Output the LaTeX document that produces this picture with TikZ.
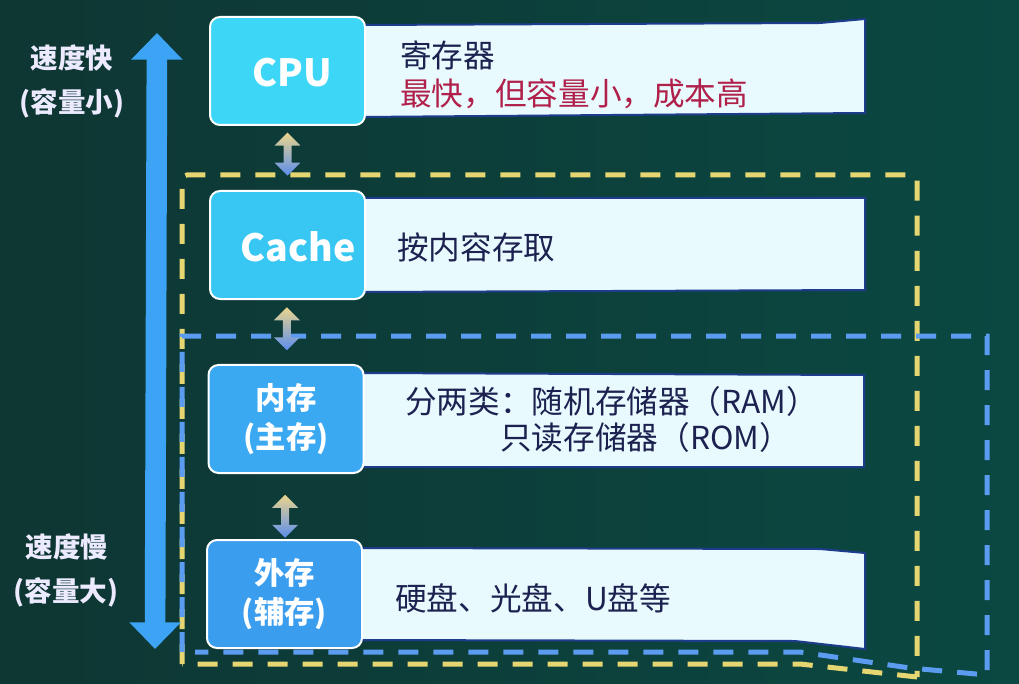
\documentclass[tikz,border=0pt]{standalone}
\usepackage{fontspec}
\setmainfont{Noto Sans CJK SC}
\usetikzlibrary{arrows.meta,calc}
\definecolor{bgL}{HTML}{0E3633}
\definecolor{bgR}{HTML}{0B4842}
\definecolor{cpuc}{HTML}{3ED6F7}
\definecolor{cachec}{HTML}{38C6F3}
\definecolor{memc}{HTML}{3BA8F2}
\definecolor{extc}{HTML}{3A9DEE}
\definecolor{panelc}{HTML}{E8FAFE}
\definecolor{panelb}{HTML}{1E3C8C}
\definecolor{navy}{HTML}{1C2150}
\definecolor{redt}{HTML}{B0204A}
\definecolor{sidec}{HTML}{ECEAFF}
\definecolor{bigc}{HTML}{3DA3F5}
\definecolor{yel}{HTML}{E6D672}
\definecolor{blu}{HTML}{5B9BF0}
\definecolor{ay}{HTML}{EAD58C}
\definecolor{am}{HTML}{C4CCE4}
\definecolor{ab}{HTML}{5C8EEE}
\newcommand\mydblarrow[1]{%
  \shade[top color=ay, middle color=am, bottom color=ab]
    ($(#1)+(0,-21.5)$) -- ++(13,13) -- ++(-9,0) -- ++(0,17) -- ++(9,0)
    -- ++(-13,13) -- ++(-13,-13) -- ++(9,0) -- ++(0,-17) -- ++(-9,0) -- cycle;}
\begin{document}
\begin{tikzpicture}[x=0.03cm,y=-0.03cm,
  box/.style={draw=white, line width=0.06cm, rounded corners=0.3cm,
    minimum width=4.65cm, minimum height=3.24cm, text=white, align=center,
    inner sep=0pt, font=\bfseries\fontsize{26pt}{34pt}\selectfont},
  lat/.style={font=\bfseries\fontsize{32pt}{36pt}\selectfont},
  panel/.style={fill=panelc, draw=panelb, line width=0.06cm},
  ptext/.style={anchor=west, text=navy, inner sep=0pt,
    font=\fontsize{27pt}{30pt}\selectfont},
  side/.style={text=sidec, inner sep=0pt,
    font=\bfseries\fontsize{23.5pt}{28pt}\selectfont},
  ydash/.style={draw=yel, line width=0.15cm, dash pattern=on 0.6cm off 0.45cm},
  bdash/.style={draw=blu, line width=0.15cm, dash pattern=on 0.6cm off 0.45cm},
  bigarrow/.style={draw=bigc, line width=0.62cm,
    {Triangle[width=1.5cm,length=0.8cm]}-{Triangle[width=1.5cm,length=0.8cm]}}
]
\useasboundingbox (0,0) rectangle (1019,684);
\shade[left color=bgL, right color=bgR] (0,0) rectangle (1019,684);

% panels
\path[panel] (360,25) -- (820,23) -- (865,19) -- (865,113) -- (360,117) -- cycle;
\path[panel] (360,198) -- (865,198) -- (865,290) -- (360,292) -- cycle;
\path[panel] (360,373) -- (864,375) -- (864,467) -- (360,467) -- cycle;
\path[panel] (360,548) -- (820,549) -- (865,553) -- (865,649) -- (795,641) -- (360,640) -- cycle;

% dashed groups
\path[ydash, rounded corners=0.15cm] (182,664) -- (182,175) -- (917,175) -- (917,677);
\path[ydash] (917,677) -- (800,664) -- (182,664);
\path[bdash] (182,652) -- (182,336) -- (987,336) -- (987,675) -- (910,668) -- (800,652) -- (195,652);

% boxes
\node[box, fill=cpuc] (cpu) at (287.5,71) {};
\node[box, fill=cachec] (cache) at (287.5,245) {};
\node[box, fill=memc] (mem) at (286,419) {内存\\(主存)};
\node[box, fill=extc] (ext) at (284.5,594) {外存\\(辅存)};
\node[lat, text=white, inner sep=0pt] (cpul) at (292,73) {CPU};
\node[lat, text=white, inner sep=0pt] (cachel) at (298,247) {Cache};

% connectors between levels
\path (cpu.south) -- (cache.north) coordinate[pos=0.44] (a1);
\path (cache.south) -- (mem.north) coordinate[pos=0.45] (a2);
\path (mem.south) -- (ext.north) coordinate[pos=0.65] (a3);
\mydblarrow{a1}
\mydblarrow{a2}
\mydblarrow{a3}

% panel texts
\node[ptext] (t1) at (400,55) {寄存器};
\node[ptext, text=redt] (t2) at (400,94) {最快，但容量小，成本高};
\node[ptext] (t3) at (397,247) {按内容存取};
\node[ptext] (t4) at (405,401) {分两类：随机存储器（RAM）};
\node[ptext] (t5) at (500,437) {只读存储器（ROM）};
\node[ptext] (t6) at (395,598) {硬盘、光盘、U盘等};

% big speed arrow
\coordinate (bigtop) at (157,33);
\coordinate (bigbot) at (155,649);
\draw[bigarrow] (bigbot) -- (bigtop);

% side labels
\node[side] (s1) at (72,58) {速度快};
\node[side] (s2) at (72,103) {(容量小)};
\node[side] (s3) at (67,547) {速度慢};
\node[side] (s4) at (66,592) {(容量大)};
\end{tikzpicture}
\end{document}
